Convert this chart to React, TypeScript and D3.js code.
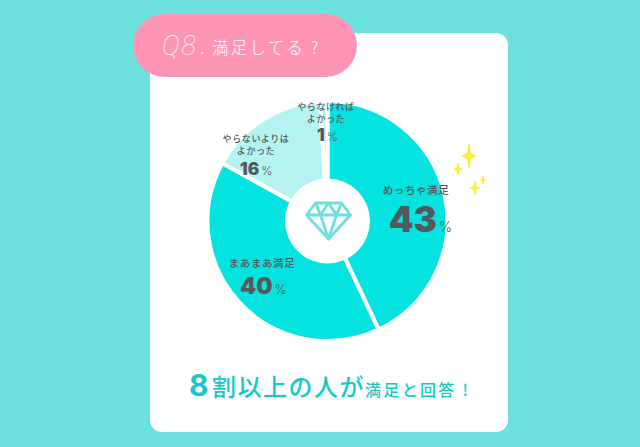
import { useEffect, useRef } from 'react'
import * as d3 from 'd3'

const categories = ['めっちゃ満足', 'まあまあ満足', 'やらないよりはよかった', 'やらなければよかった']
const values = [43, 40, 16, 1]
const colors = ['#05e3e0', '#05e3e0', '#b4f3f1', '#b4f3f1']

const JP = '"Noto Sans CJK JP", "Noto Sans", sans-serif'
const INK = '#55585c'
const TEAL = '#17c8c4'

// label lines and the number under them, placed by hand like the original
const labels = [
  { lines: ['めっちゃ満足'], cx: 416, y: 194, size: 10.5, pctSize: 35, pctY: 232, pctX: 389, signSize: 14 },
  { lines: ['まあまあ満足'], cx: 262, y: 267, size: 10.5, pctSize: 23, pctY: 294, pctX: 240, signSize: 13 },
  { lines: ['やらないよりは', 'よかった'], cx: 256, y: 142, size: 9, pctSize: 17, pctY: 175, pctX: 240, signSize: 12 },
  { lines: ['やらなければ', 'よかった'], cx: 326, y: 110, size: 9, pctSize: 17, pctY: 141, pctX: 317, signSize: 12 },
]

const sparkles = [
  { x: 469, y: 156, rx: 7, ry: 12 },
  { x: 458, y: 169, rx: 4, ry: 6 },
  { x: 475, y: 188, rx: 4.5, ry: 7 },
  { x: 483, y: 180, rx: 2.5, ry: 4 },
]

export default function App() {
  const svgRef = useRef<SVGSVGElement>(null)

  useEffect(() => {
    if (!svgRef.current) return
    const svg = d3.select(svgRef.current)
    svg.selectAll('*').remove()

    svg.append('rect').attr('width', 640).attr('height', 447).attr('fill', '#6ce0dd')
    svg.append('rect').attr('x', 150).attr('y', 33).attr('width', 358).attr('height', 399).attr('rx', 12).attr('fill', '#fff')

    // タイトル
    svg.append('rect').attr('x', 133).attr('y', 14).attr('width', 224).attr('height', 63).attr('rx', 31.5).attr('fill', '#ff95b4')
    svg.append('text')
      .attr('x', 162).attr('y', 55)
      .attr('font-family', 'Roboto, sans-serif')
      .attr('font-style', 'italic')
      .attr('font-weight', 100)
      .attr('font-size', 27)
      .attr('fill', '#fff')
      .attr('letter-spacing', 2)
      .text('Q8')
    svg.append('text')
      .attr('x', 200).attr('y', 54)
      .attr('font-family', JP)
      .attr('font-weight', 300)
      .attr('font-size', 16.5)
      .attr('fill', '#fff')
      .text('.')
    svg.append('text')
      .attr('x', 212).attr('y', 54)
      .attr('font-family', JP)
      .attr('font-weight', 300)
      .attr('font-size', 16.5)
      .attr('letter-spacing', 2.2)
      .attr('fill', '#fff')
      .text('満足してる ?')

    // パイ
    const pie = d3.pie<number>().sort(null).value(d => d)
    const arc = d3.arc<d3.PieArcDatum<number>>().innerRadius(0).outerRadius(120)
    const g = svg.append('g').attr('transform', 'translate(327.5,221)')
    g.selectAll('path')
      .data(pie(values))
      .join('path')
      .attr('d', arc)
      .attr('fill', (_, i) => colors[i])
      .attr('stroke', '#fff')
      .attr('stroke-width', 4)
    g.append('circle').attr('r', 42.5).attr('fill', '#fff')

    // ダイヤ
    const gem = svg.append('g')
      .attr('transform', 'translate(328.5,219)')
      .attr('fill', 'none')
      .attr('stroke', '#6ce0dd')
      .attr('stroke-width', 2.8)
      .attr('stroke-linejoin', 'round')
    gem.append('path').attr('d', 'M-13,-16 H13 L22,-4 L0,20 L-22,-4 Z')
    gem.append('path').attr('d', 'M-22,-4 H22 M-13,-16 L-8,-4 L0,20 L8,-4 L13,-16 M-8,-4 L0,-16 L8,-4')

    // きらきら
    sparkles.forEach(s => {
      const cx = s.rx * 0.22
      const cy = s.ry * 0.22
      svg.append('path')
        .attr('d', `M${s.x},${s.y - s.ry} L${s.x + cx},${s.y - cy} L${s.x + s.rx},${s.y} L${s.x + cx},${s.y + cy} L${s.x},${s.y + s.ry} L${s.x - cx},${s.y + cy} L${s.x - s.rx},${s.y} L${s.x - cx},${s.y - cy} Z`)
        .attr('fill', '#f7ef3a')
        .attr('stroke', '#f7ef3a')
        .attr('stroke-width', 1)
    })

    // ラベル
    labels.forEach((l, i) => {
      l.lines.forEach((line, j) => {
        svg.append('text')
          .attr('x', l.cx).attr('y', l.y + j * 12)
          .attr('text-anchor', 'middle')
          .attr('font-family', JP)
          .attr('font-size', l.size)
          .attr('font-weight', 500)
          .attr('letter-spacing', 0.6)
          .attr('fill', INK)
          .text(line)
      })
      const t = svg.append('text')
        .attr('x', l.pctX).attr('y', l.pctY)
        .attr('font-family', '"Inter", "Noto Sans", sans-serif')
        .attr('font-weight', 900)
        .attr('font-size', l.pctSize)
        .attr('fill', INK)
        .attr('aria-label', categories[i])
      t.append('tspan').text(values[i])
      t.append('tspan')
        .attr('font-weight', 300)
        .attr('font-size', l.signSize)
        .attr('dx', 2)
        .text('%')
    })

    // まとめ
    const foot = svg.append('text')
      .attr('x', 189).attr('y', 396)
      .attr('font-family', JP)
      .attr('font-weight', 500)
      .attr('fill', TEAL)
      .attr('letter-spacing', 1.5)
    foot.append('tspan').attr('font-size', 30).attr('font-family', '"Inter", sans-serif').attr('font-weight', 700).text('8')
    foot.append('tspan').attr('font-size', 24).attr('dx', 2).text('割以上の人が')
    foot.append('tspan').attr('font-size', 16).attr('letter-spacing', 2.3).text('満足と回答 !')
  }, [])

  return (
    <svg
      ref={svgRef}
      width={640}
      height={447}
      viewBox="0 0 640 447"
      style={{ position: 'fixed', left: 0, top: 0, display: 'block' }}
    />
  )
}
